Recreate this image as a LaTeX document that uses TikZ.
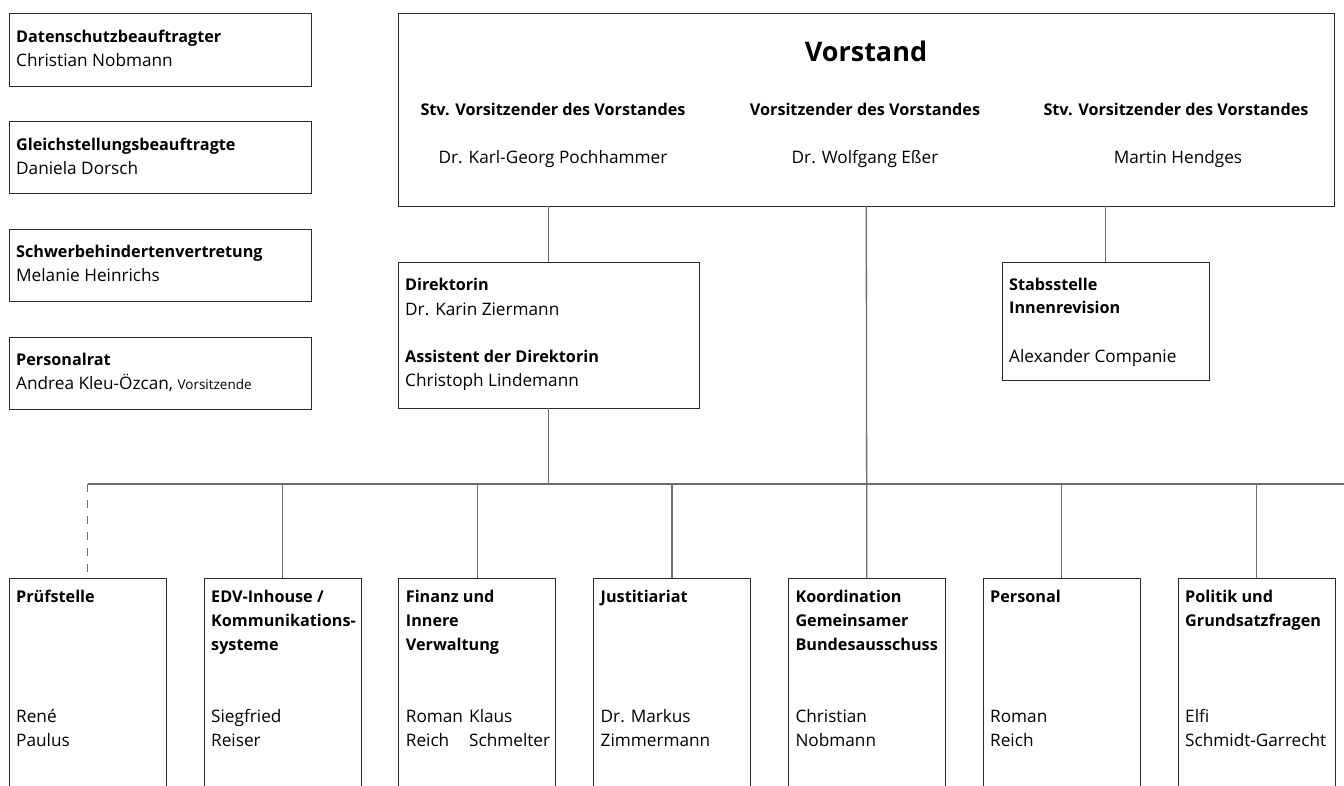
\documentclass[tikz,border=0pt]{standalone}
\usepackage{fontspec}
\setmainfont{Open Sans}
\newcommand\fr{\fontsize{17.2}{20}\selectfont}
\newcommand\fb{\fontsize{16.2}{20}\selectfont\bfseries}
\newcommand\fsm{\fontsize{13.5}{16}\selectfont}
\definecolor{boxline}{HTML}{2A2A2A}
\definecolor{connline}{HTML}{6E6E6E}
\tikzset{
  box/.style={draw=boxline, line width=0.9pt, inner sep=0pt, outer sep=0pt, anchor=north west, fill=white},
  conn/.style={draw=connline, line width=1.3pt},
  tr/.style={anchor=base west, inner sep=0pt, font=\fr},
  tbf/.style={anchor=base west, inner sep=0pt, font=\fb},
  tcr/.style={anchor=base, inner sep=0pt, font=\fr},
  tcb/.style={anchor=base, inner sep=0pt, font=\fb},
}
\begin{document}
\begin{tikzpicture}[x=1pt,y=-1pt]
\useasboundingbox[fill=white] (0,0) rectangle (1344,785);
\clip (0,0) rectangle (1344,785);

% ---------- boxes ----------
\node[box, minimum width=302pt, minimum height=73pt] (ds) at (9,13) {};
\node[box, minimum width=302pt, minimum height=72pt] (gl) at (9,121) {};
\node[box, minimum width=302pt, minimum height=72pt] (sb) at (9,229) {};
\node[box, minimum width=302pt, minimum height=72pt] (pr) at (9,337) {};

\node[box, minimum width=936.5pt, minimum height=193pt] (vor) at (398,13) {};
\node[box, minimum width=301pt, minimum height=146pt] (dir) at (398,262) {};
\node[box, minimum width=207pt, minimum height=118pt] (stab) at (1002,262) {};

\node[box, minimum width=157pt, minimum height=300pt] (pruef) at (9,578) {};
\node[box, minimum width=157pt, minimum height=300pt] (edv) at (204,578) {};
\node[box, minimum width=157pt, minimum height=300pt] (fin) at (398.7,578) {};
\node[box, minimum width=157pt, minimum height=300pt] (just) at (593.5,578) {};
\node[box, minimum width=157pt, minimum height=300pt] (koord) at (788.3,578) {};
\node[box, minimum width=157pt, minimum height=300pt] (pers) at (983,578) {};
\node[box, minimum width=157pt, minimum height=300pt] (pol) at (1178,578) {};

% ---------- connectors ----------
\coordinate (bus) at (0,484);
\coordinate (busend) at (1344,484);
\draw[conn] (dir.north) -- (dir.north |- vor.south);
\draw[conn] (stab.north) -- (stab.north |- vor.south);
\draw[conn] (vor.south) -- (koord.north);
\draw[conn] (dir.south) -- (dir.south |- bus);
\draw[conn] (pruef.north |- bus) -- (busend);
\draw[conn, dash pattern=on 8pt off 8pt] (pruef.north |- bus) -- (pruef.north);
\draw[conn] (edv.north) -- (edv.north |- bus);
\draw[conn] (fin.north) -- (fin.north |- bus);
\draw[conn] (just.north) -- (just.north |- bus);
\draw[conn] (pers.north) -- (pers.north |- bus);
\draw[conn] (pol.north) -- (pol.north |- bus);

% ---------- left column texts ----------
\node[tbf] (ds1) at (16,42.3) {Datenschutzbeauftragter};
\node[tr]  (ds2) at (16,66) {Christian Nobmann};
\node[tbf] (gl1) at (16,150) {Gleichstellungsbeauftragte};
\node[tr]  (gl2) at (16,174) {Daniela Dorsch};
\node[tbf] (sb1) at (16,257) {Schwerbehindertenvertretung};
\node[tr]  (sb2) at (16,281) {Melanie Heinrichs};
\node[tbf] (pr1) at (16,365) {Personalrat};
\node[tr]  (pr2) at (16,389) {Andrea Kleu-Özcan, {\fsm Vorsitzende}};

% ---------- Vorstand ----------
\node[anchor=base, inner sep=0pt, font=\fontsize{27}{30}\selectfont\bfseries] (vt) at (866,61.5) {Vorstand};
\node[tcb] (v1a) at (553,115) {Stv. Vorsitzender des Vorstandes};
\node[tcb] (v2a) at (865,115) {Vorsitzender des Vorstandes};
\node[tcb] (v3a) at (1176,115) {Stv. Vorsitzender des Vorstandes};
\node[tcr] (v1b) at (553,163) {Dr. Karl-Georg Pochhammer};
\node[tcr] (v2b) at (865,163) {Dr. Wolfgang Eßer};
\node[tcr] (v3b) at (1178,163) {Martin Hendges};

% ---------- Direktorin ----------
\node[tbf] (d1) at (405,290) {Direktorin};
\node[tr]  (d2) at (405,315) {Dr. Karin Ziermann};
\node[tbf] (d3) at (405,362.7) {Assistent der Direktorin};
\node[tr]  (d4) at (405,386.7) {Christoph Lindemann};

% ---------- Stabsstelle ----------
\node[tbf] (s1) at (1009,290) {Stabsstelle};
\node[tbf] (s2) at (1009,313) {Innenrevision};
\node[tr]  (s3) at (1009,362) {Alexander Companie};

% ---------- bottom row ----------
\node[tbf] (p1) at (16,602) {Prüfstelle};
\node[tr]  (p2) at (16,722) {René};
\node[tr]  (p3) at (16,746) {Paulus};

\node[tbf] (e1) at (211,602) {EDV-Inhouse /};
\node[tbf] (e2) at (211,626) {Kommunikations-};
\node[tbf] (e3) at (211,650) {systeme};
\node[tr]  (e4) at (211,722) {Siegfried};
\node[tr]  (e5) at (211,746) {Reiser};

\node[tbf] (f1) at (405.7,602) {Finanz und};
\node[tbf] (f2) at (405.7,626) {Innere};
\node[tbf] (f3) at (405.7,650) {Verwaltung};
\node[tr]  (f4) at (405.7,722) {Roman};
\node[tr]  (f5) at (405.7,746) {Reich};
\node[tr]  (f6) at (469,722) {Klaus};
\node[tr]  (f7) at (469,746) {Schmelter};

\node[tbf] (j1) at (600.5,602) {Justitiariat};
\node[tr]  (j2) at (600.5,722) {Dr. Markus};
\node[tr]  (j3) at (600.5,746) {Zimmermann};

\node[tbf] (k1) at (795.3,602) {Koordination};
\node[tbf] (k2) at (795.3,626) {Gemeinsamer};
\node[tbf] (k3) at (795.3,650) {Bundesausschuss};
\node[tr]  (k4) at (795.3,722) {Christian};
\node[tr]  (k5) at (795.3,746) {Nobmann};

\node[tbf] (pe1) at (990,602) {Personal};
\node[tr]  (pe2) at (990,722) {Roman};
\node[tr]  (pe3) at (990,746) {Reich};

\node[tbf] (po1) at (1185,602) {Politik und};
\node[tbf] (po2) at (1185,626) {Grundsatzfragen};
\node[tr]  (po3) at (1185,722) {Elfi};
\node[tr]  (po4) at (1185,746) {Schmidt-Garrecht};
\end{tikzpicture}
\end{document}
